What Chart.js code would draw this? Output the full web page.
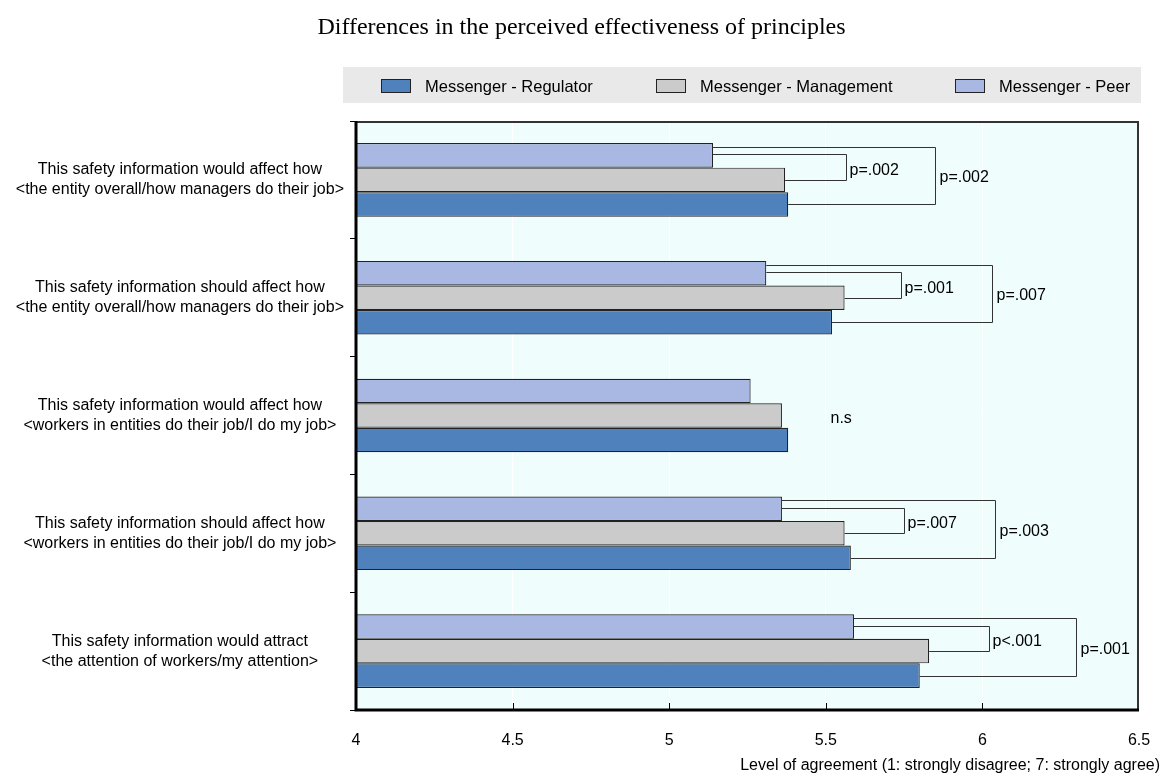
<!DOCTYPE html>
<html>
<head>
<meta charset="utf-8">
<script src="https://cdn.jsdelivr.net/npm/chart.js@4.4.0/dist/chart.umd.min.js"></script>
<style>
body{margin:0;background:#fff;}
</style>
</head>
<body>
<canvas id="myChart" width="1163" height="776"></canvas>
<script>
// chart data
const categories = [
  ["This safety information would affect how", "<the entity overall/how managers do their job>"],
  ["This safety information should affect how", "<the entity overall/how managers do their job>"],
  ["This safety information would affect how", "<workers in entities do their job/I do my job>"],
  ["This safety information should affect how", "<workers in entities do their job/I do my job>"],
  ["This safety information would attract", "<the attention of workers/my attention>"]
]
const seriesNames = ["Messenger - Peer", "Messenger - Management", "Messenger - Regulator"]
const peer = [5.14, 5.31, 5.26, 5.36, 5.59]
const management = [5.37, 5.56, 5.36, 5.56, 5.83]
const regulator = [5.38, 5.52, 5.38, 5.58, 5.80]
const xTicks = [4, 4.5, 5, 5.5, 6, 6.5]

// significance brackets (peer vs management, peer vs regulator)
const innerBracket = [5.565, 5.74, null, 5.75, 6.02]
const outerBracket = [5.85, 6.03, null, 6.04, 6.30]
const innerP = ["p=.002", "p=.001", "", "p=.007", "p<.001"]
const outerP = ["p=.002", "p=.007", "", "p=.003", "p=.001"]
const nsLabel = ["", "", "n.s", "", ""]
const nsAt = 5.515

const titleText = "Differences in the perceived effectiveness of principles"
const axisTitle = "Level of agreement (1: strongly disagree; 7: strongly agree)"

const colors = ["#a9b8e2", "#cbcbcb", "#4f81bd"]
const sansFont = "'Liberation Sans', Arial, sans-serif"

const extras = {
  id: "extras",
  beforeDraw(chart) {
    const ctx = chart.ctx
    const a = chart.chartArea
    ctx.save()
    ctx.fillStyle = "#f0fdfd"
    ctx.fillRect(a.left, a.top, a.right - a.left, a.bottom - a.top)

    // title
    ctx.fillStyle = "#000"
    ctx.font = "24px 'Liberation Serif', 'Times New Roman', serif"
    ctx.textAlign = "center"
    ctx.textBaseline = "middle"
    ctx.fillText(titleText, 581.5, 28)

    // legend band
    ctx.fillStyle = "#e9e9e9"
    ctx.fillRect(343, 67, 798, 36)
    const order = [2, 1, 0]
    const boxX = [381, 656, 955]
    ctx.font = "16.5px " + sansFont
    ctx.textAlign = "left"
    order.forEach((d, i) => {
      ctx.fillStyle = colors[d]
      ctx.fillRect(boxX[i], 79, 30, 14)
      ctx.strokeStyle = "#222"
      ctx.lineWidth = 1
      ctx.strokeRect(boxX[i] + 0.5, 79.5, 29, 13)
      ctx.fillStyle = "#000"
      ctx.fillText(seriesNames[d], boxX[i] + 44, 87)
    })
    ctx.restore()
  },
  afterDatasetsDraw(chart) {
    const ctx = chart.ctx
    const xs = chart.scales.x
    const p = chart.getDatasetMeta(0).data
    const m = chart.getDatasetMeta(1).data
    const r = chart.getDatasetMeta(2).data
    ctx.save()
    ctx.strokeStyle = "#333"
    ctx.lineWidth = 1
    ctx.font = "16px " + sansFont
    ctx.fillStyle = "#000"
    ctx.textAlign = "left"
    ctx.textBaseline = "middle"
    for (let j = 0; j < categories.length; j++) {
      if (innerBracket[j] != null) {
        const bx = Math.round(xs.getPixelForValue(innerBracket[j])) + 0.5
        const y1 = Math.round(p[j].y - 1) + 0.5
        const y2 = Math.round(m[j].y) + 0.5
        ctx.beginPath()
        ctx.moveTo(p[j].x, y1)
        ctx.lineTo(bx, y1)
        ctx.lineTo(bx, y2)
        ctx.lineTo(m[j].x, y2)
        ctx.stroke()
        ctx.fillText(innerP[j], bx + 3, (y1 + y2) / 2 + 3)
      }
      if (outerBracket[j] != null) {
        const bx = Math.round(xs.getPixelForValue(outerBracket[j])) + 0.5
        const y1 = Math.round(p[j].y - p[j].height / 2 + 4) + 0.5
        const y2 = Math.round(r[j].y) + 0.5
        ctx.beginPath()
        ctx.moveTo(p[j].x, y1)
        ctx.lineTo(bx, y1)
        ctx.lineTo(bx, y2)
        ctx.lineTo(r[j].x, y2)
        ctx.stroke()
        ctx.fillText(outerP[j], bx + 4, (y1 + y2) / 2 + 2)
      }
      if (nsLabel[j]) {
        ctx.fillText(nsLabel[j], xs.getPixelForValue(nsAt), m[j].y + 3)
      }
    }
    ctx.restore()
  },
  afterDraw(chart) {
    const ctx = chart.ctx
    const a = chart.chartArea
    const xs = chart.scales.x
    ctx.save()
    // inward ticks on the x axis
    ctx.strokeStyle = "#000"
    ctx.lineWidth = 1
    xTicks.slice(1, -1).forEach(v => {
      const x = Math.round(xs.getPixelForValue(v)) + 0.5
      ctx.beginPath()
      ctx.moveTo(x, a.bottom)
      ctx.lineTo(x, a.bottom - 7)
      ctx.stroke()
    })
    // frame
    ctx.strokeStyle = "#333"
    ctx.lineWidth = 2
    ctx.beginPath()
    ctx.moveTo(a.left, a.top + 1)
    ctx.lineTo(a.right - 1, a.top + 1)
    ctx.lineTo(a.right - 1, a.bottom)
    ctx.stroke()
    ctx.strokeStyle = "#000"
    ctx.lineWidth = 3
    ctx.beginPath()
    ctx.moveTo(a.left, a.top)
    ctx.lineTo(a.left, a.bottom)
    ctx.lineTo(a.right, a.bottom)
    ctx.stroke()
    // x axis title
    ctx.fillStyle = "#000"
    ctx.font = "16px " + sansFont
    ctx.textAlign = "right"
    ctx.textBaseline = "middle"
    ctx.fillText(axisTitle, 1160, 766)
    ctx.restore()
  }
}

const ctx = document.getElementById("myChart").getContext("2d")
const myChart = new Chart(ctx, {
  type: "bar",
  data: {
    labels: categories,
    datasets: [
      { label: seriesNames[0], data: peer, backgroundColor: colors[0] },
      { label: seriesNames[1], data: management, backgroundColor: colors[1] },
      { label: seriesNames[2], data: regulator, backgroundColor: colors[2] }
    ].map(d => Object.assign(d, {
      borderColor: "#222",
      borderWidth: 1.2,
      borderSkipped: false,
      categoryPercentage: 0.625,
      barPercentage: 1
    }))
  },
  options: {
    indexAxis: "y",
    responsive: false,
    animation: false,
    layout: { padding: { top: 121, right: 24, left: 0, bottom: 0 } },
    plugins: {
      legend: { display: false },
      title: { display: false },
      tooltip: { enabled: false }
    },
    scales: {
      x: {
        min: 4,
        max: 6.5,
        afterBuildTicks: s => { s.ticks = xTicks.map(v => ({ value: v })) },
        afterFit: s => { s.height = 66 },
        ticks: {
          color: "#000",
          padding: 2,
          font: { family: sansFont, size: 16 },
          callback: v => String(v)
        },
        grid: { color: "#ffffff", lineWidth: 1, drawTicks: true, tickLength: 19, tickColor: "rgba(0,0,0,0)" },
        border: { display: false }
      },
      y: {
        afterFit: s => { s.width = 356 },
        ticks: {
          color: "#000",
          crossAlign: "center",
          padding: 6,
          font: { family: sansFont, size: 16, lineHeight: 1.25 }
        },
        grid: { offset: true, drawOnChartArea: false, drawTicks: true, tickLength: 6, color: "#000" },
        border: { display: false }
      }
    }
  },
  plugins: [extras]
})
</script>
</body>
</html>
